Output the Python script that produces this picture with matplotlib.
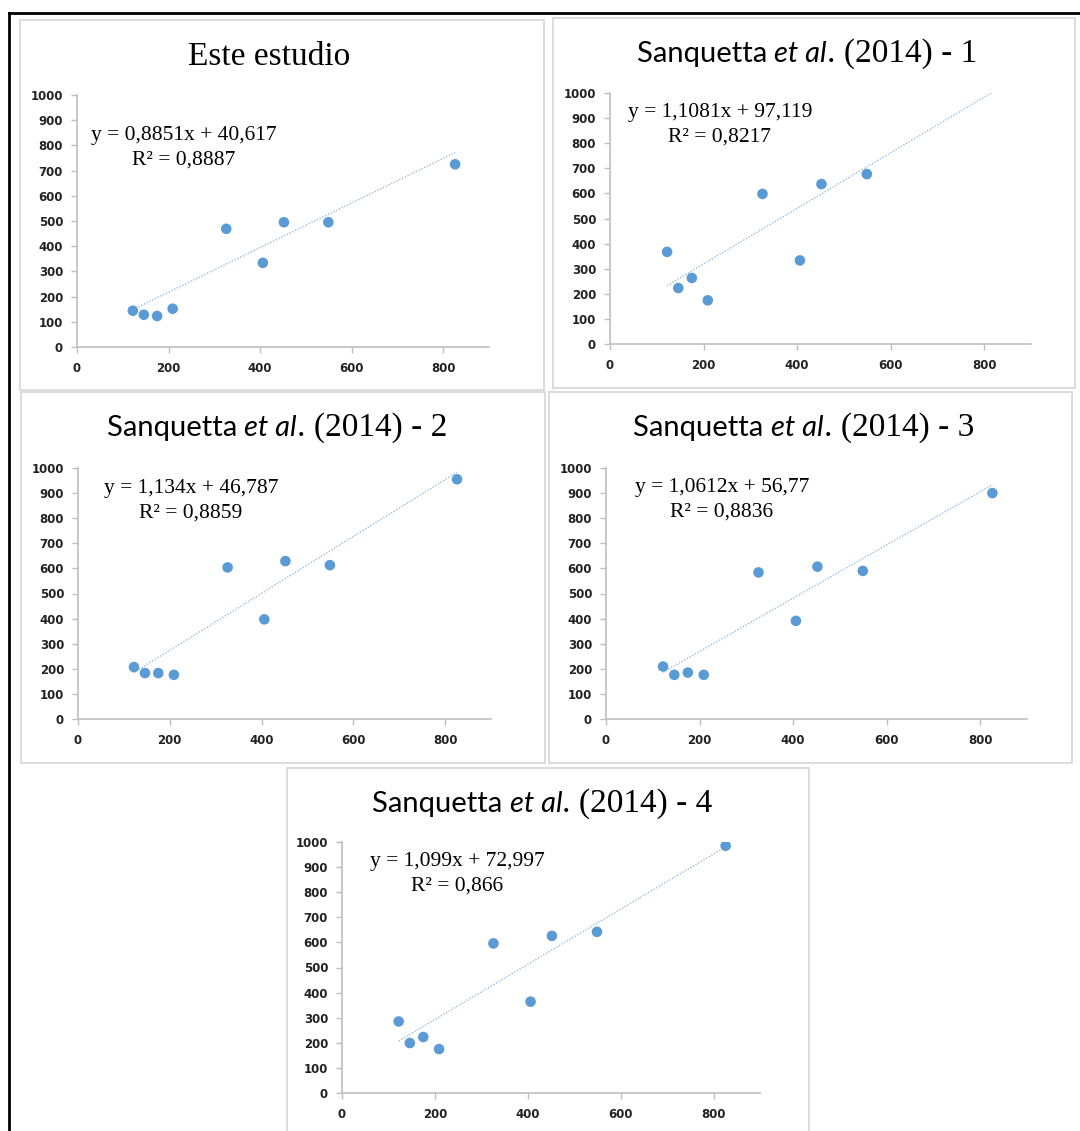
"""
Five regression panels (Este estudio vs. Sanquetta et al. 2014), Excel look.
"""
import numpy as np
import matplotlib
matplotlib.use('Agg')
import matplotlib.pyplot as plt
from matplotlib.patches import Rectangle
from matplotlib.lines import Line2D

W, H = 1080, 1131

# data
x_vals = [122, 146, 175, 209, 326, 406, 452, 549, 826]
y_este = [144, 128, 123, 152, 469, 334, 495, 495, 725]
y_sanq1 = [367, 223, 263, 174, 598, 333, 637, 677, 1165]   # last point is above the axis
y_sanq2 = [207, 183, 183, 176, 604, 397, 629, 613, 955]
y_sanq3 = [209, 176, 185, 176, 584, 391, 607, 590, 900]
y_sanq4 = [285, 199, 223, 175, 596, 364, 626, 642, 985]

slopes = [0.8851, 1.1081, 1.134, 1.0612, 1.099]
intercepts = [40.617, 97.119, 46.787, 56.77, 72.997]
r2_vals = [0.8887, 0.8217, 0.8859, 0.8836, 0.866]
panel_suffix = [None, '1', '2', '3', '4']
series = [y_este, y_sanq1, y_sanq2, y_sanq3, y_sanq4]

x_ticks = [0, 200, 400, 600, 800]
y_ticks = list(range(0, 1001, 100))

# layout in pixels: panel box (x0, y0, x1, y1), axes (x at 0, x at 900, y at 0, y at 1000),
# equation (center x, baseline of first line), title center shift
boxes = [(20, 20, 544, 390), (553, 18, 1075, 388), (21, 392, 545, 763),
         (549, 392, 1072, 763), (287, 768, 809, 1140)]
axes_px = [(77, 489, 347, 95), (610, 1031, 344, 93), (78, 491, 719, 468),
           (606, 1027, 719, 468), (342, 760, 1093, 842)]
eq_pos = [(184, 140), (720, 117), (191, 493), (722, 492), (457, 866)]
title_shift = [-13, -7, -6, -7, -6]

BLUE = '#5b9bd5'
GREY = '#bfbfbf'

fig = plt.figure(figsize=(W / 100, H / 100), dpi=100)
renderer = fig.canvas.get_renderer()


def fx(px):
    return px / W


def fy(py):
    return 1 - py / H


def comma(v):
    return str(v).replace('.', ',')


def mixed_title(cx, base_y, parts):
    """Place text pieces with different fonts side by side, centered at cx."""
    texts = [fig.text(0, 0, s, va='baseline', ha='left', **kw) for s, kw in parts]
    widths = [t.get_window_extent(renderer).width for t in texts]
    x = cx - sum(widths) / 2
    for t, w in zip(texts, widths):
        t.set_position((fx(x), fy(base_y)))
        x += w


serif = dict(family='Liberation Serif', fontsize=24, color='black')
sans = dict(family='Lato', fontsize=21, color='black')
sans_it = dict(family='Lato', fontsize=21, style='italic', color='black')
eq_font = dict(family='Liberation Serif', fontsize=15.5, color='black')

for i, ys in enumerate(series):
    bx0, by0, bx1, by1 = boxes[i]
    fig.add_artist(Rectangle((fx(bx0), fy(by1)), fx(bx1 - bx0), (by1 - by0) / H,
                             transform=fig.transFigure, fill=False,
                             edgecolor='#d9d9d9', linewidth=1.3))

    ax0, ax1, ay0, ay1 = axes_px[i]
    ax = fig.add_axes([fx(ax0), fy(ay0), fx(ax1 - ax0), (ay0 - ay1) / H])
    ax.set_xlim(0, 900)
    ax.set_ylim(0, 1000)
    ax.set_xticks(x_ticks)
    ax.set_yticks(y_ticks)
    for side in ('top', 'right'):
        ax.spines[side].set_visible(False)
    for side in ('left', 'bottom'):
        ax.spines[side].set_color(GREY)
        ax.spines[side].set_linewidth(1.2)
    ax.tick_params(direction='out', length=4, width=1, color=GREY,
                   labelsize=8.5, labelcolor='#222222')
    ax.tick_params(axis='y', pad=6)
    ax.tick_params(axis='x', pad=7)
    for lab in ax.get_xticklabels() + ax.get_yticklabels():
        lab.set_fontweight('bold')
    ax.patch.set_alpha(0)

    # trendline over the data range
    xs = np.array([min(x_vals), max(x_vals)])
    ax.plot(xs, slopes[i] * xs + intercepts[i], color=BLUE, alpha=0.65,
            linewidth=1, linestyle=(0, (1, 1.2)), zorder=2)
    ax.scatter(x_vals, ys, s=58, color=BLUE, edgecolors='none', zorder=3)

    ex, ey = eq_pos[i]
    fig.text(fx(ex), fy(ey), 'y = {}x + {}'.format(comma(slopes[i]), comma(intercepts[i])),
             ha='center', va='baseline', **eq_font)
    fig.text(fx(ex), fy(ey + 25), 'R² = {}'.format(comma(r2_vals[i])),
             ha='center', va='baseline', **eq_font)

    cx = (bx0 + bx1) / 2 + title_shift[i]
    if panel_suffix[i] is None:
        fig.text(fx(cx), fy(by0 + 45), 'Este estudio', ha='center', va='baseline', **serif)
    else:
        mixed_title(cx, by0 + 44, [('Sanquetta ', sans), ('et al', sans_it),
                                   ('. (2014) - ' + panel_suffix[i], serif)])

# black frame on top and left
fig.add_artist(Line2D([fx(9), 1], [fy(13), fy(13)], transform=fig.transFigure,
                      color='black', linewidth=2))
fig.add_artist(Line2D([fx(9), fx(9)], [fy(13), 0], transform=fig.transFigure,
                      color='black', linewidth=2))

fig.savefig('out.png', dpi=100)
